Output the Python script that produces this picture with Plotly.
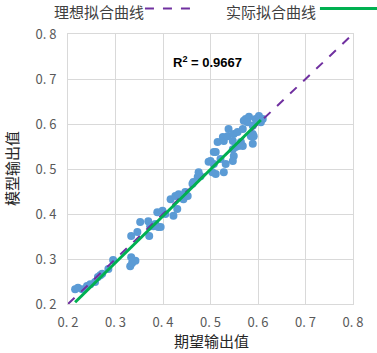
import plotly.graph_objects as go

# Scatter data: expected output (x) vs model output (y)
expected = [0.215, 0.221, 0.230, 0.240, 0.247, 0.257, 0.263, 0.268, 0.272, 0.285,
            0.295, 0.331, 0.335, 0.342, 0.333, 0.333, 0.346, 0.352, 0.369, 0.371,
            0.373, 0.380, 0.384, 0.390, 0.395, 0.388, 0.399, 0.405, 0.416, 0.422,
            0.426, 0.430, 0.433, 0.443, 0.447, 0.452, 0.462, 0.464, 0.473, 0.475,
            0.479, 0.496, 0.500, 0.504, 0.507, 0.511, 0.507, 0.511, 0.515, 0.521,
            0.528, 0.532, 0.526, 0.528, 0.538, 0.536, 0.547, 0.549, 0.557, 0.547,
            0.564, 0.553, 0.568, 0.549, 0.547, 0.559, 0.568, 0.570, 0.574, 0.581,
            0.578, 0.589, 0.595, 0.602, 0.606, 0.610, 0.585, 0.589, 0.591, 0.589]
model = [0.233, 0.236, 0.233, 0.240, 0.244, 0.249, 0.260, 0.264, 0.267, 0.278,
         0.298, 0.284, 0.291, 0.296, 0.304, 0.351, 0.360, 0.382, 0.384, 0.351,
         0.373, 0.373, 0.378, 0.371, 0.371, 0.404, 0.407, 0.400, 0.433, 0.396,
         0.440, 0.411, 0.444, 0.433, 0.449, 0.440, 0.467, 0.471, 0.482, 0.493,
         0.484, 0.516, 0.518, 0.493, 0.511, 0.489, 0.538, 0.538, 0.560, 0.522,
         0.493, 0.511, 0.571, 0.562, 0.589, 0.573, 0.544, 0.578, 0.582, 0.562,
         0.560, 0.549, 0.551, 0.529, 0.518, 0.551, 0.589, 0.607, 0.611, 0.616,
         0.604, 0.596, 0.611, 0.618, 0.604, 0.611, 0.573, 0.578, 0.573, 0.556]

ideal_x = [0.2, 0.8]
ideal_y = [0.2, 0.8]
fit_x = [0.215, 0.606]
fit_y = [0.204, 0.609]

tick_vals = [0.2, 0.3, 0.4, 0.5, 0.6, 0.7, 0.8]
tick_text = ["0. 2", "0. 3", "0. 4", "0. 5", "0. 6", "0. 7", "0. 8"]

legend_names = ["理想拟合曲线", "实际拟合曲线"]
x_title = "期望输出值"
y_title = "模型输出值"
r2_text = "R<sup>2</sup> = 0.9667"

CJK = "Noto Sans CJK SC"
PURPLE = "#7030A0"
GREEN = "#00B050"
BLUE = "#5B9BD5"

fig = go.Figure()
fig.add_trace(go.Scatter(x=expected, y=model, mode="markers",
                         marker=dict(size=8, color=BLUE), showlegend=False))
fig.add_trace(go.Scatter(x=ideal_x, y=ideal_y, mode="lines",
                         line=dict(color=PURPLE, width=2, dash="dash"), showlegend=False))
fig.add_trace(go.Scatter(x=fit_x, y=fit_y, mode="lines",
                         line=dict(color=GREEN, width=3), showlegend=False))

axis_common = dict(range=[0.2, 0.8], tickvals=tick_vals, ticktext=tick_text,
                   showgrid=True, gridcolor="#D9D9D9", gridwidth=1,
                   showline=True, linecolor="#D9D9D9", linewidth=1, mirror=True,
                   zeroline=False, ticks="", automargin=False,
                   tickfont=dict(family=CJK, size=13, color="#595959"))

fig.update_xaxes(**axis_common, ticklabelstandoff=6)
fig.update_yaxes(**axis_common, ticklabelstandoff=8)

# Axis titles
fig.add_annotation(xref="paper", yref="paper", x=0.502, y=-0.136, xanchor="center", yanchor="middle",
                   text=x_title, showarrow=False,
                   font=dict(family=CJK, size=15, color="#262626"))
fig.add_annotation(xref="paper", yref="paper", x=-0.2, y=0.5, xanchor="center", yanchor="middle",
                   text=y_title, showarrow=False, textangle=-90,
                   font=dict(family=CJK, size=15, color="#262626"))

# Legend drawn manually (text followed by line sample)
fig.add_annotation(xref="paper", yref="paper", x=-0.056, y=1.084, xanchor="left", yanchor="middle",
                   text=legend_names[0], showarrow=False,
                   font=dict(family=CJK, size=15, color="#404040"))
fig.add_shape(type="line", xref="paper", yref="paper", x0=0.27, x1=0.446, y0=1.094, y1=1.094,
              line=dict(color=PURPLE, width=2, dash="dash"))
fig.add_annotation(xref="paper", yref="paper", x=0.547, y=1.084, xanchor="left", yanchor="middle",
                   text=legend_names[1], showarrow=False,
                   font=dict(family=CJK, size=15, color="#404040"))
fig.add_shape(type="line", xref="paper", yref="paper", x0=0.884, x1=1.09, y0=1.094, y1=1.094,
              line=dict(color=GREEN, width=3))

fig.add_annotation(xref="paper", yref="paper", x=0.488, y=0.896, xanchor="center", yanchor="middle",
                   text="<b>" + r2_text + "</b>", showarrow=False,
                   font=dict(family="Liberation Sans", size=13, color="#000000"))

fig.update_layout(width=377, height=353, margin=dict(l=68, r=24, t=34, b=49),
                  plot_bgcolor="white", paper_bgcolor="white", showlegend=False)

fig.write_html("out.html", config={"displayModeBar": False},
               post_script="document.body.style.margin='0';document.body.style.overflow='hidden';")
